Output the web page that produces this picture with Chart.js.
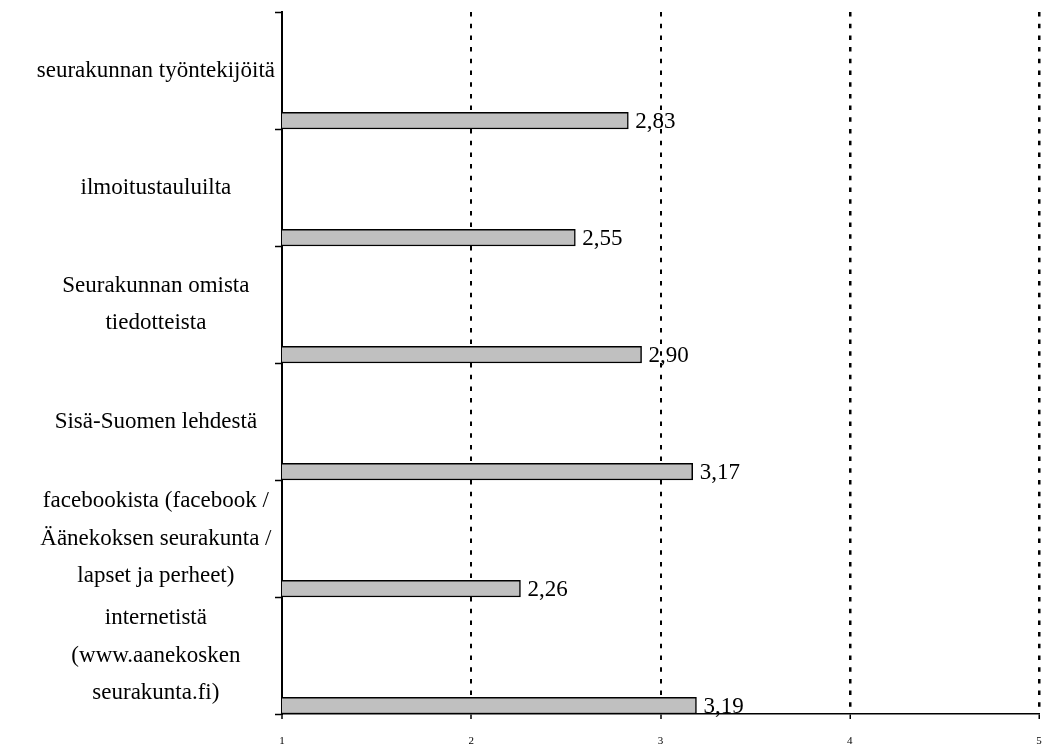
<!DOCTYPE html>
<html>
<head>
<meta charset="utf-8">
<script src="https://cdn.jsdelivr.net/npm/chart.js@4/dist/chart.umd.min.js"></script>
<style>
  html, body { margin: 0; padding: 0; background: #ffffff; }
  #wrap { width: 1044px; height: 744px; position: relative; }
</style>
</head>
<body>
<div id="wrap"><canvas id="c" width="1044" height="744"></canvas></div>
<script>
const categories = [
  ["seurakunnan työntekijöitä"],
  ["ilmoitustauluilta"],
  ["Seurakunnan omista", "tiedotteista"],
  ["Sisä-Suomen lehdestä"],
  ["facebookista (facebook /", "Äänekoksen seurakunta /", "lapset ja perheet)"],
  ["internetistä", "(www.aanekosken", "seurakunta.fi)"]
];
const values = [2.83, 2.55, 2.90, 3.17, 2.26, 3.19];
const xTicks = [1, 2, 3, 4, 5];
const emptySlotCount = 6;

const FONT = "'Liberation Serif', 'Times New Roman', serif";

const emptyDatasets = [];
for (let i = 0; i < emptySlotCount; i++) {
  emptyDatasets.push({ label: 'slot' + i, data: [], backgroundColor: 'rgba(0,0,0,0)', borderWidth: 0 });
}

const valueLabelPlugin = {
  id: 'valueLabels',
  afterDatasetsDraw(chart) {
    const ctx = chart.ctx;
    const idx = chart.data.datasets.length - 1;
    const meta = chart.getDatasetMeta(idx);
    ctx.save();
    ctx.font = "23px " + FONT;
    ctx.fillStyle = '#000';
    ctx.textAlign = 'left';
    ctx.textBaseline = 'middle';
    meta.data.forEach((el, i) => {
      const v = chart.data.datasets[idx].data[i];
      ctx.fillText(v.toFixed(2).replace('.', ','), el.x + 7, el.y + 1);
    });
    ctx.restore();
  }
};

function noPad(scale) {
  scale.paddingTop = 0;
  scale.paddingBottom = 0;
  scale.paddingLeft = 0;
  scale.paddingRight = 0;
}

new Chart(document.getElementById('c'), {
  type: 'bar',
  data: {
    labels: categories,
    datasets: [
      ...emptyDatasets,
      {
        label: 'arvo',
        data: values,
        backgroundColor: '#c0c0c0',
        borderColor: '#000000',
        borderWidth: 1.5,
        borderSkipped: false
      }
    ]
  },
  options: {
    indexAxis: 'y',
    responsive: false,
    animation: false,
    events: [],
    layout: { padding: { top: 12, right: 5, left: 0, bottom: 0 } },
    datasets: { bar: { categoryPercentage: 1, barPercentage: 1 } },
    plugins: { legend: { display: false }, tooltip: { enabled: false } },
    scales: {
      x: {
        type: 'linear',
        min: 1,
        max: 5,
        afterBuildTicks(scale) { scale.ticks = xTicks.map(v => ({ value: v })); },
        afterFit(scale) { scale.height = 30; noPad(scale); },
        ticks: {
          stepSize: 1,
          color: '#000',
          font: { family: FONT, size: 11 },
          padding: 16,
          autoSkip: false,
          maxRotation: 0
        },
        grid: {
          drawOnChartArea: true,
          color: ctx => (ctx.tick && ctx.tick.value === 1) ? 'rgba(0,0,0,0)' : '#000',
          lineWidth: ctx => (ctx.tick && ctx.tick.value >= 4) ? 2.5 : 2,
          tickColor: '#000',
          tickLength: 5,
          tickWidth: 1.5
        },
        border: { display: true, color: '#000', width: 1.5, dash: [4.5, 7.2] }
      },
      y: {
        type: 'category',
        afterFit(scale) { scale.width = 282; noPad(scale); },
        ticks: {
          color: '#000',
          font: { family: FONT, size: 23, lineHeight: 1.63 },
          crossAlign: 'center',
          padding: 0,
          autoSkip: false
        },
        grid: {
          offset: true,
          drawOnChartArea: false,
          tickColor: '#000',
          tickLength: 7,
          tickWidth: 1.5
        },
        border: { display: true, color: '#000', width: 2 }
      }
    }
  },
  plugins: [valueLabelPlugin]
});
</script>
</body>
</html>
